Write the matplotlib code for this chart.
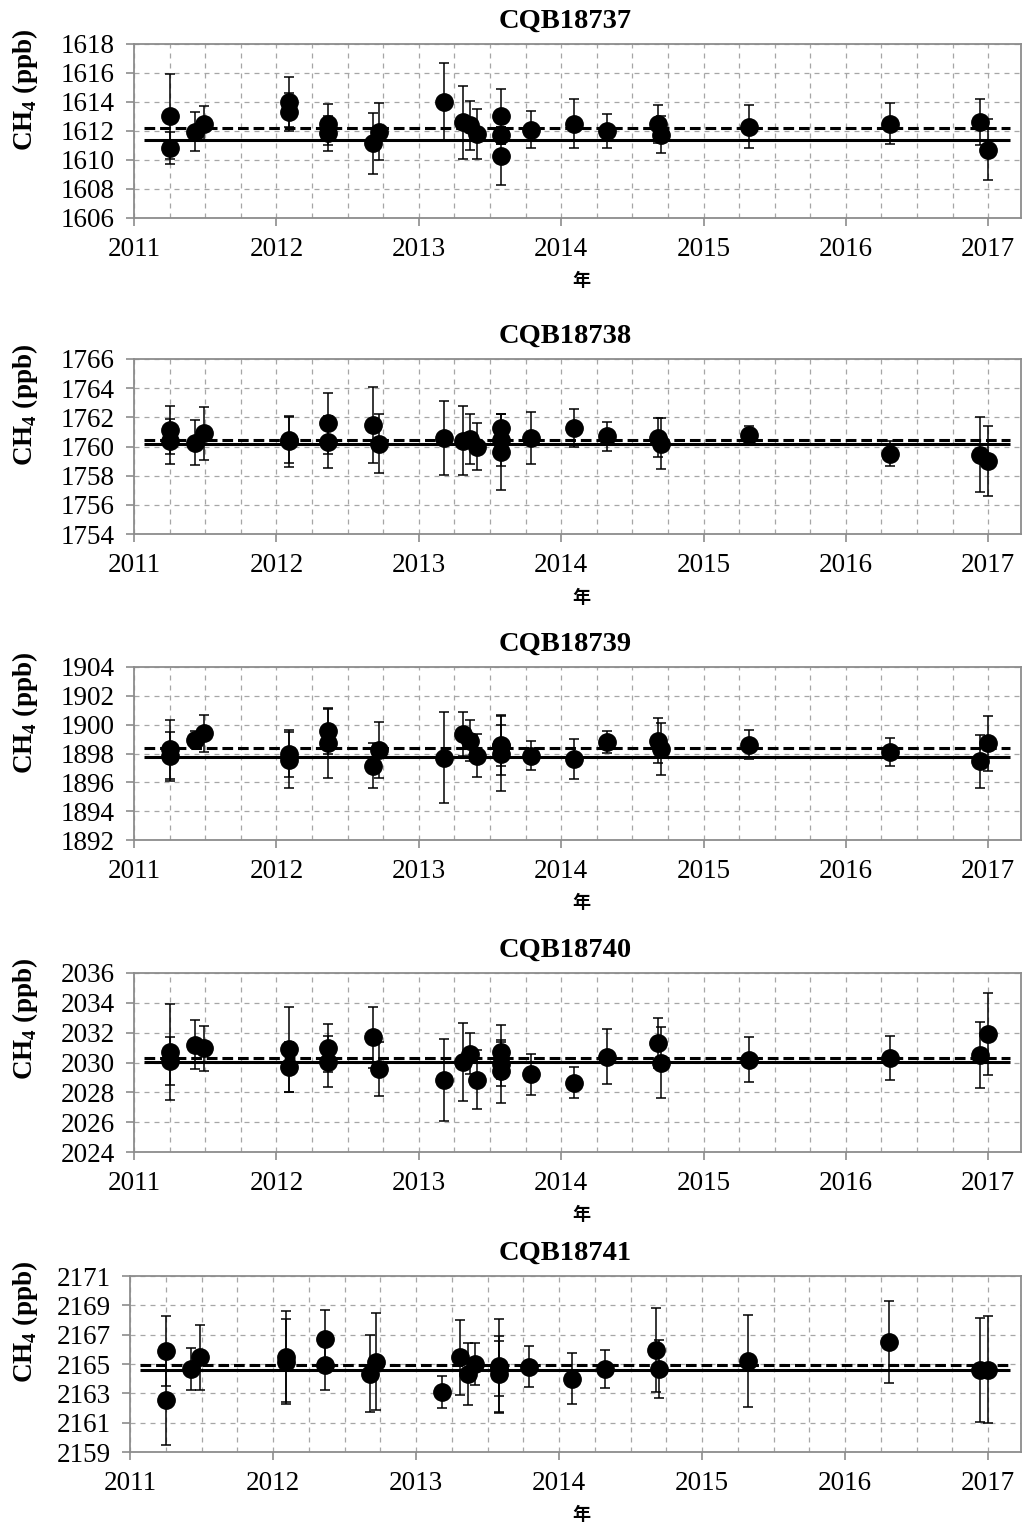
import matplotlib.pyplot as plt
from matplotlib.ticker import MultipleLocator

plt.rcParams['font.family'] = ['Liberation Serif', 'DejaVu Serif']
plt.rcParams['mathtext.fontset'] = 'custom'
plt.rcParams['mathtext.rm'] = 'Liberation Serif:bold'
plt.rcParams['mathtext.bf'] = 'Liberation Serif:bold'

# sampling dates (decimal year), shared by all cylinders
dates = [2011.255, 2011.255, 2011.43, 2011.49, 2012.09, 2012.09, 2012.36, 2012.36,
         2012.68, 2012.72, 2013.18, 2013.31, 2013.36, 2013.41, 2013.58, 2013.58,
         2013.58, 2013.79, 2014.09, 2014.32, 2014.68, 2014.70, 2015.32, 2016.31,
         2016.94, 2017.0]

names = ['CQB18737', 'CQB18738', 'CQB18739', 'CQB18740', 'CQB18741']

ch4_737 = [1613.0, 1610.8, 1611.95, 1612.5, 1614.0, 1613.3, 1612.45, 1611.85, 1611.15,
           1611.95, 1614.0, 1612.6, 1612.4, 1611.8, 1613.0, 1611.7, 1610.3, 1612.1,
           1612.5, 1612.0, 1612.5, 1611.75, 1612.3, 1612.5, 1612.6, 1610.7]
err_737 = [2.9, 1.1, 1.35, 1.2, 1.75, 1.3, 1.4, 1.2, 2.1, 1.95, 2.7, 2.5, 1.7, 1.7,
           1.9, 0.6, 2.0, 1.3, 1.7, 1.2, 1.3, 1.3, 1.5, 1.4, 1.6, 2.1]

ch4_738 = [1761.15, 1760.35, 1760.25, 1760.9, 1760.45, 1760.35, 1761.6, 1760.3, 1761.5,
           1760.2, 1760.6, 1760.4, 1760.5, 1760.0, 1761.25, 1760.45, 1759.6, 1760.6,
           1761.25, 1760.7, 1760.6, 1760.2, 1760.8, 1759.5, 1759.45, 1759.0]
err_738 = [1.65, 1.55, 1.55, 1.8, 1.55, 1.75, 2.1, 1.8, 2.6, 2.0, 2.55, 2.35, 1.7, 1.6,
           1.0, 1.8, 2.6, 1.8, 1.3, 1.0, 1.35, 1.75, 0.6, 0.85, 2.6, 2.4]

ch4_739 = [1898.3, 1897.8, 1898.95, 1899.4, 1898.0, 1897.55, 1899.55, 1898.7, 1897.15,
           1898.25, 1897.7, 1899.35, 1898.9, 1897.85, 1898.6, 1898.55, 1898.0, 1897.85,
           1897.6, 1898.8, 1898.9, 1898.3, 1898.6, 1898.1, 1897.45, 1898.7]
err_739 = [2.05, 1.7, 0.6, 1.3, 1.6, 1.95, 1.6, 2.4, 1.55, 1.95, 3.15, 1.5, 1.4, 1.5,
           2.1, 1.4, 2.6, 1.0, 1.4, 0.75, 1.55, 1.8, 1.0, 1.0, 1.85, 1.9]

ch4_740 = [2030.7, 2030.1, 2031.2, 2030.95, 2030.9, 2029.7, 2030.95, 2030.05, 2031.7,
           2029.55, 2028.8, 2030.05, 2030.6, 2028.85, 2030.7, 2029.9, 2029.4, 2029.2,
           2028.65, 2030.4, 2031.3, 2030.0, 2030.2, 2030.3, 2030.5, 2031.9]
err_740 = [3.2, 1.6, 1.65, 1.5, 2.85, 1.65, 1.6, 1.7, 2.05, 1.8, 2.75, 2.6, 1.4, 2.0,
           1.8, 1.5, 2.1, 1.4, 1.05, 1.85, 1.7, 2.4, 1.5, 1.5, 2.2, 2.75]

ch4_741 = [2165.9, 2162.55, 2164.65, 2165.45, 2165.5, 2165.15, 2166.7, 2164.95, 2164.35,
           2165.15, 2163.1, 2165.45, 2164.3, 2165.0, 2164.85, 2164.7, 2164.3, 2164.8,
           2164.0, 2164.65, 2165.95, 2164.65, 2165.2, 2166.5, 2164.6, 2164.6]
err_741 = [2.4, 3.1, 1.45, 2.2, 3.1, 2.9, 2.0, 1.75, 2.65, 3.3, 1.1, 2.55, 2.1, 1.4,
           3.2, 1.9, 2.6, 1.4, 1.75, 1.3, 2.85, 2.0, 3.15, 2.8, 3.55, 3.65]

# mean of measurements (dashed) and assigned value (solid)
mean_vals = [1612.23, 1760.47, 1898.39, 2030.28, 2164.9]
ref_vals = [1611.38, 1760.2, 1897.77, 2030.03, 2164.6]
y_low = [1606, 1754, 1892, 2024, 2159]

series = [(ch4_737, err_737), (ch4_738, err_738), (ch4_739, err_739),
          (ch4_740, err_740), (ch4_741, err_741)]

W, H = 1031, 1528
fig = plt.figure(figsize=(W / 100, H / 100), dpi=100)

tops = [44, 359, 667, 973, 1276]
bottoms = [218, 534, 840, 1152, 1452]
lefts = [134, 134, 134, 134, 130]
right = 1021
grey = '#8c8c8c'

for i in range(5):
    l, t, b = lefts[i], tops[i], bottoms[i]
    ax = fig.add_axes([l / W, 1 - b / H, (right - l) / W, (b - t) / H])
    y, e = series[i]

    ax.hlines(mean_vals[i], 2011.07, 2017.15, colors='black', linestyles=(0, (3.5, 1.6)),
              linewidth=2.2, zorder=3)
    ax.hlines(ref_vals[i], 2011.07, 2017.15, colors='black', linewidth=2.2, zorder=3)
    ax.errorbar(dates, y, yerr=e, fmt='o', color='black', markersize=12.5,
                ecolor='black', elinewidth=1.1, capsize=3.5, capthick=1.1, zorder=4)

    ax.set_xlim(2011, 2017.23)
    ax.set_ylim(y_low[i], y_low[i] + 12)
    ax.set_yticks(range(y_low[i], y_low[i] + 13, 2))
    ax.xaxis.set_major_locator(MultipleLocator(1))
    ax.xaxis.set_minor_locator(MultipleLocator(0.25))
    ax.xaxis.set_major_formatter(plt.FuncFormatter(lambda v, p: '%d' % round(v)))
    ax.grid(True, which='both', axis='x', color='#a6a6a6', linestyle=(0, (4, 4)), linewidth=0.9)
    ax.grid(True, which='major', axis='y', color='#a6a6a6', linestyle=(0, (4, 4)), linewidth=0.9)
    ax.set_axisbelow(True)
    ax.tick_params(axis='both', which='major', length=6, width=1.2, color=grey,
                   labelsize=19.5, pad=8)
    ax.tick_params(axis='x', which='minor', length=0)
    for s in ax.spines.values():
        s.set_color(grey)
        s.set_linewidth(1.3)

    fig.text(565 / W, 1 - (t - 16) / H, names[i], ha='center', va='baseline',
             fontsize=20.5, fontweight='bold')
    fig.text(25 / W, 1 - (t + 46) / H, r'CH$_\mathrm{4}$ (ppb)', rotation=90, ha='center',
             va='center', fontsize=19.5, fontweight='bold')
    fig.text(581 / W, 1 - (b + 63) / H, '年', ha='center', va='center', fontsize=13,
             fontweight='bold', family=['Noto Sans CJK SC', 'DejaVu Sans'])

fig.savefig('out.png', dpi=100)
